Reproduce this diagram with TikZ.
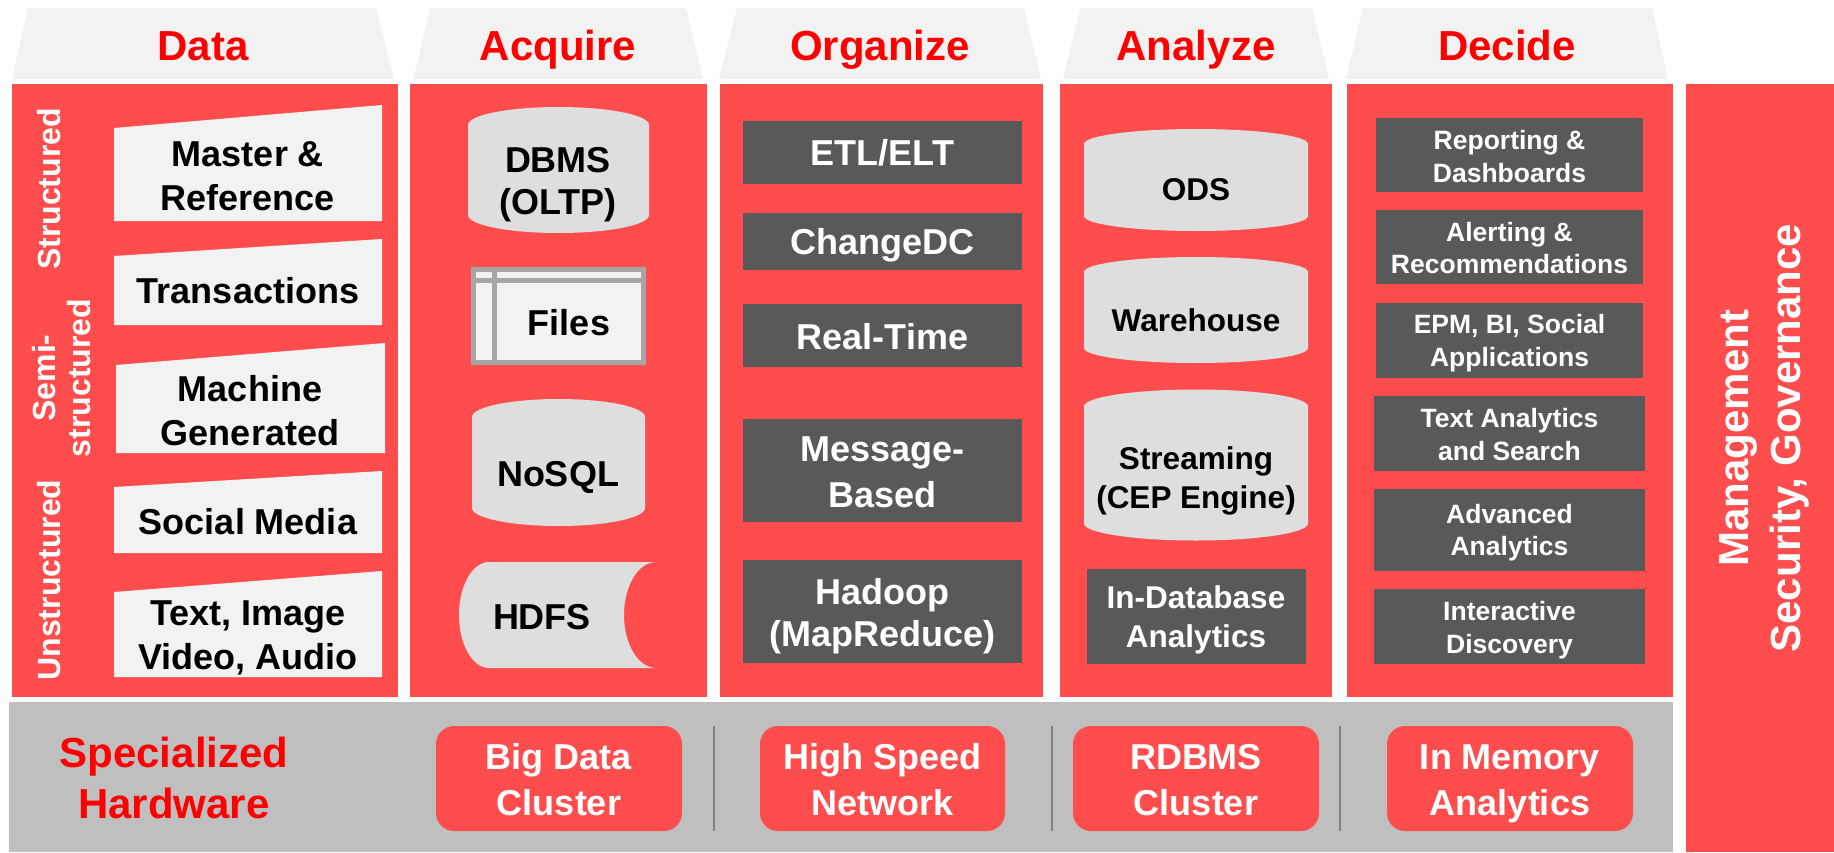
\documentclass[tikz,border=0pt]{standalone}
\usepackage{fontspec}
\setmainfont{Liberation Sans}
\definecolor{redcol}{RGB}{255,77,77}
\definecolor{hdrred}{RGB}{255,0,0}
\definecolor{lightg}{RGB}{242,242,242}
\definecolor{cylg}{RGB}{222,222,222}
\definecolor{darkg}{RGB}{89,89,89}
\definecolor{bandg}{RGB}{191,191,191}
\definecolor{sepg}{RGB}{128,128,128}
\definecolor{fileg}{RGB}{166,166,166}
\newcommand\sml[1]{\smash{#1}}
\begin{document}
\begin{tikzpicture}[x=1pt,y=-1pt,
  every node/.style={inner sep=0pt,align=center},
  fsz/.style 2 args={font=\fontsize{#1}{#2}\selectfont\bfseries},
  hdrtrap/.style={fill=lightg},
  redcolumn/.style={fill=redcol},
  lightbox/.style={fill=lightg},
  cylfill/.style={fill=cylg},
  darkbox/.style={fill=darkg},
  hwbox/.style={fill=redcol, rounded corners=18pt},
  sepline/.style={draw=sepg, line width=2pt},
  fileline/.style={draw=fileg, line width=5pt},
  hdrtext/.style={fsz={42}{50}, text=hdrred},
  datatext/.style={fsz={36}{44}, text=black},
  acqtext/.style={fsz={36}{42}, text=black},
  orgtext/.style={fsz={36}{45}, text=white},
  anatext/.style={fsz={31.5}{39}, text=black},
  dectext/.style={fsz={26.5}{32.5}, text=white},
  hwtext/.style={fsz={36}{46}, text=white},
  sidetext/.style={fsz={32}{35}, text=white, rotate=90},
]
\useasboundingbox (0,0) rectangle (1834,852);
\fill[white] (0,0) rectangle (1834,852);

% ---------- header trapezoids ----------
\fill[hdrtrap] (12,79) -- (28,8) -- (376,8) -- (394,79) -- cycle;
\fill[hdrtrap] (413.5,79) -- (430,8) -- (686,8) -- (703,79) -- cycle;
\fill[hdrtrap] (719,79) -- (737,8) -- (1024,8) -- (1041,79) -- cycle;
\fill[hdrtrap] (1063,79) -- (1080.5,8) -- (1312,8) -- (1329,79) -- cycle;
\fill[hdrtrap] (1346,79) -- (1363,8) -- (1652,8) -- (1668,79) -- cycle;
\node[hdrtext] (hData) at (203,60) {\sml{Data}};
\node[hdrtext] (hAcq) at (558,60) {\sml{Acquire}};
\node[hdrtext] (hOrg) at (880,60) {\sml{Organize}};
\node[hdrtext] (hAna) at (1196,60) {\sml{Analyze}};
\node[hdrtext] (hDec) at (1507,60) {\sml{Decide}};

% ---------- red columns ----------
\fill[redcolumn] (12,84) rectangle (398,697);
\fill[redcolumn] (410,84) rectangle (707,697);
\fill[redcolumn] (720,84) rectangle (1043,697);
\fill[redcolumn] (1060,84) rectangle (1332,697);
\fill[redcolumn] (1347,84) rectangle (1673,697);
\fill[redcolumn] (1686,84) rectangle (1834,852);

% ---------- Data column ----------
\fill[lightbox] (114,128) -- (382,105) -- (382,221) -- (114,221) -- cycle;
\fill[lightbox] (114,256) -- (382,239) -- (382,325) -- (114,325) -- cycle;
\fill[lightbox] (116,365) -- (385,343) -- (385,453) -- (116,453) -- cycle;
\fill[lightbox] (114,487) -- (382,471) -- (382,553) -- (114,553) -- cycle;
\fill[lightbox] (114,592) -- (382,571) -- (382,677) -- (114,677) -- cycle;
\node[datatext] (master) at (248,188) {\sml{Master \&}\\\sml{Reference}};
\node[datatext] (trans) at (248,303) {\sml{Transactions}};
\node[datatext] (machine) at (250,423) {\sml{Machine}\\\sml{Generated}};
\node[datatext] (social) at (248,534) {\sml{Social Media}};
\node[datatext] (textimg) at (248,647) {\sml{Text, Image}\\\sml{Video, Audio}};
\node[sidetext] (structured) at (60,189) {\sml{Structured}};
\node[sidetext] (semi) at (72.5,378) {\sml{Semi-}\\\sml{structured}};
\node[sidetext] (unstructured) at (60,580) {\sml{Unstructured}};

% ---------- Acquire column ----------
\fill[cylfill] (468,125) arc[start angle=180,end angle=0,x radius=90.5pt,y radius=18pt]
  -- (649,215) arc[start angle=0,end angle=-180,x radius=90.5pt,y radius=18pt] -- cycle;
\node[acqtext] (dbms) at (558,193) {\sml{DBMS}\\\sml{(OLTP)}};
\fill[lightbox] (471,266.5) rectangle (646,365);
\draw[fileline] (473.5,269) rectangle (643.5,362.5);
\draw[fileline] (473.5,280.5) -- (643.5,280.5);
\draw[fileline] (494.5,269) -- (494.5,362.5);
\node[acqtext] (files) at (569,335) {\sml{Files}};
\fill[cylfill] (472,417) arc[start angle=180,end angle=0,x radius=86.5pt,y radius=18pt]
  -- (645,508) arc[start angle=0,end angle=-180,x radius=86.5pt,y radius=18pt] -- cycle;
\node[acqtext] (nosql) at (558,486) {\sml{NoSQL}};
\fill[cylfill] (489,562) -- (656,562) arc[start angle=90,end angle=270,x radius=32pt,y radius=53pt]
  -- (489,668) arc[start angle=270,end angle=90,x radius=30pt,y radius=53pt] -- cycle;
\node[acqtext] (hdfs) at (542,629) {\sml{HDFS}};

% ---------- Organize column ----------
\fill[darkbox] (743,121) rectangle (1022,183.6);
\fill[darkbox] (743,213) rectangle (1022,270);
\fill[darkbox] (743,304) rectangle (1022,366.5);
\fill[darkbox] (743,419) rectangle (1022,522);
\fill[darkbox] (743,560) rectangle (1022,663);
\node[orgtext] (etl) at (882.5,165) {\sml{ETL/ELT}};
\node[orgtext] (cdc) at (882.5,254) {\sml{ChangeDC}};
\node[orgtext] (rt) at (882.5,349.6) {\sml{Real-Time}};
\node[orgtext,fsz={36}{46}] (msg) at (882.5,484) {\sml{Message-}\\\sml{Based}};
\node[orgtext,fsz={36}{42}] (hadoop) at (882.5,625) {\sml{Hadoop}\\\sml{(MapReduce)}};

% ---------- Analyze column ----------
\fill[cylfill] (1084,144) arc[start angle=180,end angle=0,x radius=112pt,y radius=15pt]
  -- (1308,216) arc[start angle=0,end angle=-180,x radius=112pt,y radius=15pt] -- cycle;
\fill[cylfill] (1084,272) arc[start angle=180,end angle=0,x radius=112pt,y radius=15pt]
  -- (1308,348) arc[start angle=0,end angle=-180,x radius=112pt,y radius=15pt] -- cycle;
\fill[cylfill] (1084,406.5) arc[start angle=180,end angle=0,x radius=112pt,y radius=17pt]
  -- (1308,523.5) arc[start angle=0,end angle=-180,x radius=112pt,y radius=17pt] -- cycle;
\fill[darkbox] (1087,569) rectangle (1306,664);
\node[anatext] (ods) at (1196,200.5) {\sml{ODS}};
\node[anatext] (wh) at (1196,331) {\sml{Warehouse}};
\node[anatext] (stream) at (1196,488.5) {\sml{Streaming}\\\sml{(CEP Engine)}};
\node[anatext,text=white,fsz={31.5}{38.5}] (indb) at (1196,628) {\sml{In-Database}\\\sml{Analytics}};

% ---------- Decide column ----------
\fill[darkbox] (1376,117.5) rectangle (1643,192);
\fill[darkbox] (1376,210) rectangle (1643,284);
\fill[darkbox] (1376,303) rectangle (1643,377.6);
\fill[darkbox] (1374,396) rectangle (1645,470.5);
\fill[darkbox] (1374,489) rectangle (1645,571);
\fill[darkbox] (1374,589) rectangle (1645,664);
\node[dectext] (rep) at (1509.5,166) {\sml{Reporting \&}\\\sml{Dashboards}};
\node[dectext] (alert) at (1509.5,257.3) {\sml{Alerting \&}\\\sml{Recommendations}};
\node[dectext] (epm) at (1509.5,350.2) {\sml{EPM, BI, Social}\\\sml{Applications}};
\node[dectext] (tas) at (1509.5,444) {\sml{Text Analytics}\\\sml{and Search}};
\node[dectext] (adv) at (1509.5,539.7) {\sml{Advanced}\\\sml{Analytics}};
\node[dectext] (inter) at (1509.5,637) {\sml{Interactive}\\\sml{Discovery}};

% ---------- Management column ----------
\node[fsz={42}{52}, text=white, rotate=90] (mgmt) at (1774,438) {\sml{Management}\\\sml{Security, Governance}};

% ---------- Specialized hardware band ----------
\fill[bandg] (9,702) rectangle (1673,852);
\node[fsz={42}{51}, text=hdrred] (spec) at (174,792.5) {\sml{Specialized}\\\sml{Hardware}};
\fill[hwbox] (436,726) rectangle (682,831);
\fill[hwbox] (760,726) rectangle (1005,831);
\fill[hwbox] (1073,726) rectangle (1319,831);
\fill[hwbox] (1387,726) rectangle (1633,831);
\coordinate (s1t) at (714,726); \coordinate (s1b) at (714,831);
\coordinate (s2t) at (1052,726); \coordinate (s2b) at (1052,831);
\coordinate (s3t) at (1339.5,726); \coordinate (s3b) at (1339.5,831);
\draw[sepline] (s1t) -- (s1b);
\draw[sepline] (s2t) -- (s2b);
\draw[sepline] (s3t) -- (s3b);
\node[hwtext] (bigdata) at (559,792) {\sml{Big Data}\\\sml{Cluster}};
\node[hwtext] (hsn) at (882.5,792) {\sml{High Speed}\\\sml{Network}};
\node[hwtext] (rdbms) at (1196,792) {\sml{RDBMS}\\\sml{Cluster}};
\node[hwtext] (inmem) at (1510,792) {\sml{In Memory}\\\sml{Analytics}};
\end{tikzpicture}
\end{document}
